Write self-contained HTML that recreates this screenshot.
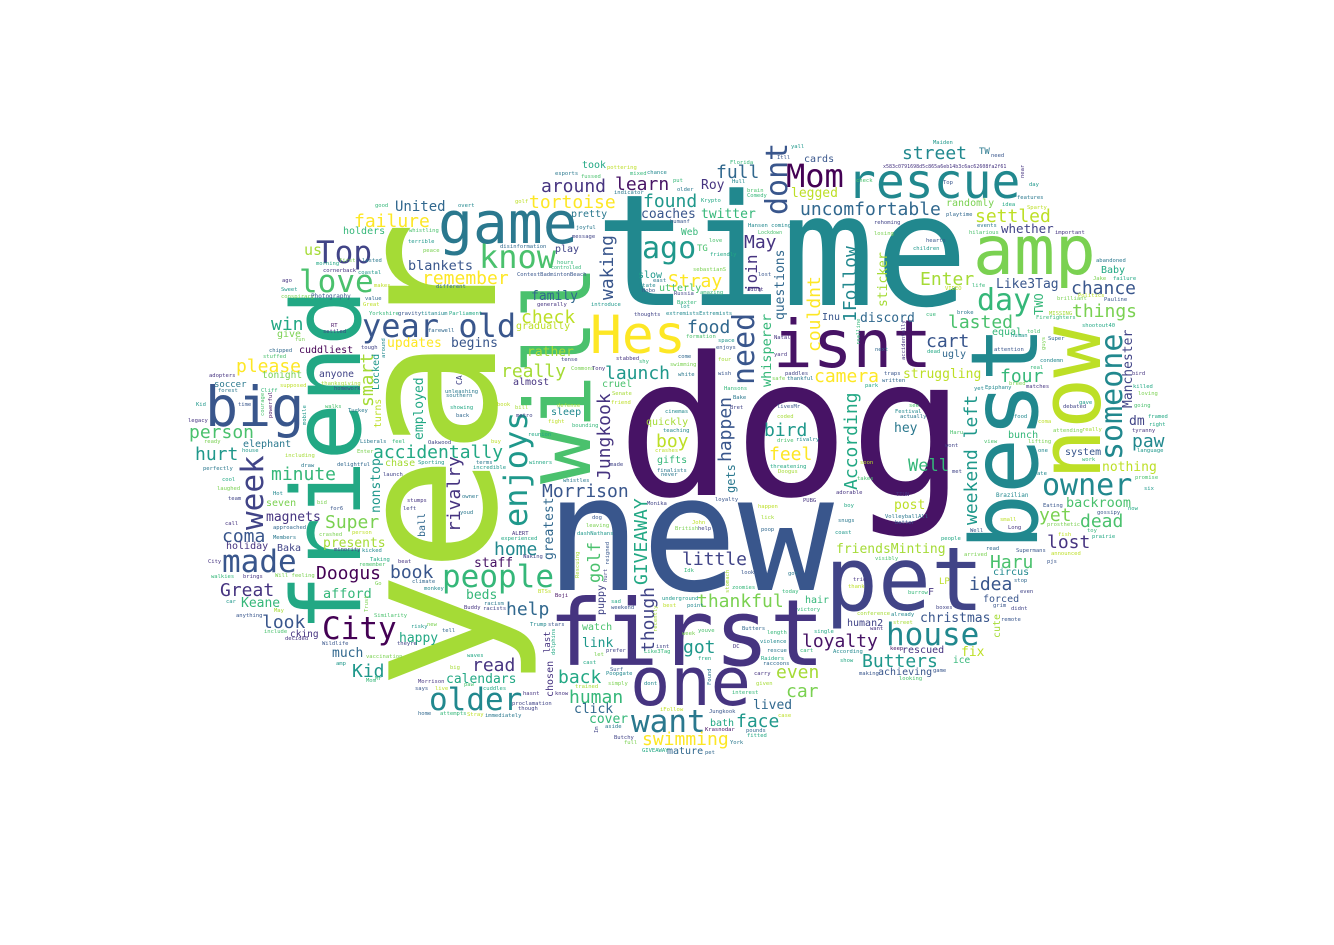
<!DOCTYPE html>
<html lang="en">
<head>
<meta charset="utf-8">
<title>Word cloud</title>
<style>
html,body{margin:0;padding:0;background:#fff;width:1334px;height:945px;overflow:hidden}
#cloud{display:block;filter:blur(.3px)}
#cloud text{font-family:"DejaVu Sans Mono","Liberation Mono",monospace}
</style>
</head>
<body>
<svg id="cloud" xmlns="http://www.w3.org/2000/svg" width="1334" height="945" viewBox="0 0 1334 945">
<rect width="1334" height="945" fill="#fff"/>
</svg>
<script>
const words = [
"dog","time","new","year","friend",
"first","one","pet","game","amp",
"Hes","will","best","now","isnt",
"big","rescue","know","Top","love",
"year old","week","made","City","people",
"older","want","house","owner","someone",
"day","ago","Mom","dont","need",
"enjoys","failure","remember","win","please",
"person","hurt","accidentally","minute","Super",
"coma","Doogus","book","Great","look",
"Kid","read","home","help","around",
"learn","full","tortoise","found","May",
"Stray","waking","check","couldnt","food",
"really","launch","Jungkook","happen","bird",
"boy","feel","Morrison","GIVEAWAY","golf",
"though","little","thankful","face","swimming",
"human","back","even","car","got",
"loyalty","Butters","idea","Haru","Well",
"According","weekend left","paw","yet","dead",
"lost","four","camera","lasted","cart",
"1Follow","Enter","street","settled","chance",
"things","rivalry","smart","join","United",
"us","blankets","updates","begins","employed",
"nonstop","presents","magnets","afford","beds",
"Keane","happy","much","calendars","staff",
"greatest","coaches","twitter","uncomfortable","legged",
"questions","whisperer","family","rather","cover",
"click","lived","link","christmas","friendsMinting",
"post","fix","Manchester","nothing","system",
"backroom","struggling","hey","discord","sticker",
"Like3Tag","whether","dm","Roy","TW",
"holders","tonight","cuddliest","anyone","soccer",
"give","Locked","turns","elephant","chase",
"seven","holiday","Baka","cking","ball",
"took","pretty","Web","play","slow",
"utterly","gradually","cruel","almost","sleep",
"quickly","gifts","gets","puppy","hair",
"mature","bath","watch","last","chosen",
"rescued","achieving","ice","human2","cute",
"forced","circus","LP","F","bunch",
"randomly","equal","ugly","Inu","Baby",
"TWO","CA","TG","cards","good",
"overt","whistling","terrible","peace","morning",
"first","lasted","cornerback","coastal","ago",
"Sweet","makes","different","conspiracy","Photography",
"value","Great","Yorkshire","gravity","titanium",
"Parliament","RT","settled","farewell","fun",
"tough","around","chipped","stuffed","adopters",
"Cliff","supposed","forest","thanksgiving","homework",
"unleashing","southern","showing","back","Kid",
"time","courage","powerful","legacy","mobile",
"walks","Turkey","book","ready","house",
"including","draw","delightful","Liberals","feel",
"Oakwood","buy","Enter","Sporting","terms",
"incredible","perfectly","launch","cool","laughed",
"team","Hot","owner","stumps","left",
"for6","bid","call","approached","youd",
"Members","crashed","person","minority","kicked",
"Taking","beat","remember","City","walkies",
"brings","Will feeling","climate","monkey","Go",
"car","Buddy","racism","racists","anything",
"May","Similarity","include","decided","risky",
"new","tell","Wildlife","theyre","vaccination",
"waves","amp","big","Morrison","Mom",
"Mr","live","says","paw","cuddles",
"home","attempts","Stray","immediately","Trust",
"Maiden","need","x583c0791698d5c865a6eb14b3c6ac62608fa2f61","check","near",
"Top","day","features","idea","Sparty",
"playtime","rehoming","events","hilarious","losing",
"important","hearts","children","abandoned","failure",
"Jake","life","VIDEO","Politics","brilliant",
"Pauline","MISSING","cue","broke","Firefighters",
"shootout40","told","Super","human","guys",
"attention","next","dead","accidentally","realline",
"condemn","real","bird","traps","written",
"breed","matches","killed","park","Epiphany",
"yet","loving","going","gave","debated",
"food","Festival","actually","framed","right",
"attending","really","tyranny","Haru","coma",
"see","view","lifting","language","one",
"wont","work","met","ate","takes",
"soon","promise","six","adorable","TTUN",
"Brazilian","Eating","boy","gossipy","now",
"VolleyballAll","better","snugs","small","Long",
"prosthetic","fish","toy","Well","coast",
"people","read","Supermans","prairie","announced",
"arrived","visibly","pjs","trio","thank",
"stop","even","burrow","boxes","grim",
"didnt","remote","conference","already","street",
"want","According","keep","show","game",
"making","looking","reunion","winners","whistles",
"made","finalists","never","teaching","crashes",
"threatening","Doogus","drive","rivalry","Monika",
"loyalty","PUBG","happen","lick","dog",
"leaving","poop","British","help","John",
"dashNathans","ALERT","experienced","Waking","Idk",
"look","got","zoomies","today","Boji",
"BTSs","sad","underground","point","best",
"weekend","victory","Trump","stars","youve",
"Butters","week","length","violence","single",
"isnt","DC","prefer","rescue","cart",
"let","Like3Tag","fren","Raiders","raccoons",
"cast","Surf","Poopgate","carry","trained",
"simply","dont","given","interest","know",
"hasnt","proclamation","though","iFollow","Jungkook",
"case","aside","Krasnodar","pounds","Butchy",
"fitted","full","York","GIVEAWAY","pet",
"dolphins","Rescuing","hurt","reigned","stomach",
"Found","recently","Im","pottering","esports",
"fussed","mixed","chance","put","Florida",
"Hull","yall","Itll","older","indicator",
"brain","Comedy","Krypto","golf","Hansen coming",
"joyful","Lockdown","message","disinformation","love",
"friendly","hours","controlled","sebastianS","lost",
"state","east","Hobo","Russia","amazing",
"adult","ContestBadmintonBeach","generally","introduce","Baxter",
"lot","thoughts","extremistsExtremists","formation","space",
"enjoys","Natal","yard","stabbed","tense",
"come","shy","Commons","Tony","swimming",
"four","white","wish","paddles","safe",
"thankful","Hansons","Bake","Senate","friend",
"defense","bill","livesMr","Bret","metro",
"cinemas","coded","fight","bounding","humanf"
];
const frequencies = [
193,155,160,195,95,
92,67,88,58,68,
53,91,93,85,66,
55,48,32,31,31,
32,31,31,31,31,
31,31,31,30,30,
30,30,32,30,30,
32,18,18,18,18,
18,18,18,18,18,
18,18,18,18,18,
18,18,18,18,18,
18,18,18,18,18,
18,18,18,18,18,
18,18,18,18,18,
18,18,18,18,17,
18,18,18,18,18,
18,18,18,18,18,
18,18,18,18,17,
18,18,18,18,18,
18,18,18,18,18,
18,18,18,18,18,
18,18,18,16,14,
15,13.5,13,13,13,
13,13,13,13.5,13,
13,13,13,13,13,
13,13,13,18,13,
13,13.5,13,13,13,
13,13,13,13,13,
13,13,13,13,10,
13.5,13,13,13,13,
13,12.5,13,13,9,
10,9.5,10,9.7,9,
10,10,9.7,10,10,
10,10,10,9.5,10,
10,10,9.5,10,10,
10,10,10,10,10,
10,10,12,10,10,
10,10,10,9,10,
10,10,9.5,10,10,
10,10,9,10,10,
10,10,10,10,10,
12,8,9,10,5.5,
5.5,5.5,5.5,5.5,5.5,
5.5,5.5,5.5,5.5,5.5,
5.5,5.5,5.5,5.5,6,
5.5,5.5,5.5,5.5,5.5,
5.5,5.5,5.5,5.5,5.5,
5.5,5.5,5.5,5.5,5.5,
5.5,5.5,5.5,5.5,5.5,
5.5,5.5,5.5,5.5,5.5,
5.5,5.5,5.5,5.5,5.5,
5.5,5.5,5.5,5.5,5.5,
5.5,5.5,5.5,5.5,5.5,
5.5,5.5,5.5,5.5,5.5,
5.5,5.5,5.5,5.5,5.5,
5.5,5.5,5.5,5.5,5.5,
5.5,5.5,5.5,5.5,5.5,
5.5,5.5,5.5,5.5,5.5,
5.5,5.5,5.5,5.5,5.5,
5.5,5.5,5.5,5.5,5.5,
5.5,5.5,5.5,5.5,5.5,
5.5,5.5,5.5,5.5,5.5,
5.5,5.5,5.5,5.5,5.5,
5.5,5.5,5.5,5.5,5.5,
5.5,5.5,5.5,5.5,5.5,
5.5,5.5,5.5,5.5,5.5,
5.5,5.5,5,5.5,5.5,
5.5,5.5,5.5,5.5,5.5,
5.5,5.5,5.5,5.5,5.5,
5.5,5.5,5.5,5.5,5.5,
5.5,5.5,5.5,5.5,5.5,
5.5,5.5,5.5,5.5,5.5,
5.5,5.5,5.5,5.5,5.5,
5.5,5.5,5.5,5.5,5.5,
5.5,5.5,5.5,5.5,5.5,
5.5,5.5,5.5,5.5,5.5,
5.5,5.5,5.5,5.5,5.5,
5.5,5.5,5.5,5.5,5.5,
5.5,5.5,5.5,5.5,5.5,
5.5,5.5,5.5,5.5,5.5,
5.5,5.5,5.5,5.5,5.5,
5.5,5.5,5.5,5.5,5.5,
6,5.5,5.5,5.5,5.5,
5.5,5.5,5.5,5.5,5.5,
5.5,5.5,5.5,5.5,5.5,
5.5,5.5,5.5,5.5,5.5,
5.5,5.5,5.5,5.5,5.5,
5.5,5.5,5.5,5.5,5.5,
5.5,5.5,5.5,5.5,5.5,
5.5,5.5,5.5,5.5,5.5,
5.5,5.5,5.5,5.5,5.5,
5.5,5.5,5.5,5.5,5.5,
5.5,5.5,5.5,5.5,5.5,
5.5,5.5,5.5,5.5,5.5,
5.5,5.5,5.5,5.5,5.5,
5.5,5.5,5.5,5.5,5.5,
5.5,5.5,5.5,5.5,5.5,
5.5,5.5,5.5,5.5,5.5,
5.5,5.5,5.5,5.5,5.5,
5.5,5.5,5.5,5.5,5.5,
5.5,5.5,5.5,5.5,5.5,
5.5,5.5,5.5,5.5,5.5,
5.5,5.5,5.5,5.5,5.5,
5.5,5.5,5.5,5.5,5.5,
5.5,5.5,5.5,5.5,5.5,
5.5,5.5,5.5,5.5,5.5,
5.5,5.5,5.5,5.5,5.5,
5.5,5.5,5.5,5.5,5.5,
5.5,5.5,5.5,5.5,5.5,
5.5,5.5,5.5,5.5,5.5,
5.5,5.5,5.5,5.5,5.5,
5.5,5.5,5.5,5.5,5.5,
5.5,5,5.5,5.5,5.5,
5.5,5.5,5,5.5,5.5,
5.5,5.5,5.5,5.5,5.5,
5.5,5.5,5.5,5.5,5.5,
5.5,5.5,5.5,5.5,5.5,
5.5,5.5,5.5,5.5,5.5,
5.5,5.5,5.5,5.5,5.5,
5.5,5.5,5.5,5.5,5.5,
5.5,5.5,5.5,5.5,5.5,
5.5,5.5,5.5,5.5,5.5,
5.5,5.5,5.5,5.5,5.5
];
const palette = {a:"#440154",b:"#471365",c:"#463480",d:"#414487",e:"#39568c",f:"#31688e",g:"#2a788e",h:"#21888e",i:"#1f988b",j:"#22a884",k:"#35b779",l:"#4ac16d",m:"#7ad151",n:"#a5db36",o:"#bddf26",p:"#fde725"};
/* Cloud layout result (not data): anchor x, anchor y, rotated flag, colour key per word */
const cloudLayout = [
[617,495,0,"b"],[595,305,0,"h"],[545,590,0,"e"],[495,690,1,"n"],[360,632,1,"j"],
[548,665,0,"c"],[630,705,0,"c"],[825,610,0,"d"],[438,243,0,"g"],[973,274,0,"m"],
[590,353,0,"p"],[590,484,1,"l"],[1037,550,1,"h"],[1100,480,1,"o"],[773,367,0,"b"],
[205,426,0,"e"],[847,198,0,"h"],[479,268,0,"l"],[316,263,0,"d"],[299,292,0,"l"],
[362,337,0,"e"],[263,530,1,"d"],[222,572,0,"e"],[322,639,0,"a"],[442,587,0,"k"],
[429,710,0,"h"],[631,732,0,"g"],[886,645,0,"h"],[1042,495,0,"h"],[1122,460,1,"h"],
[977,310,0,"k"],[642,258,0,"i"],[786,187,0,"a"],[787,215,1,"e"],[754,385,1,"e"],
[527,527,1,"i"],[354,227,0,"p"],[422,284,0,"p"],[271,330,0,"j"],[236,372,0,"p"],
[189,438,0,"l"],[195,460,0,"i"],[373,458,0,"j"],[271,480,0,"k"],[325,528,0,"m"],
[222,542,0,"e"],[316,579,0,"a"],[390,578,0,"e"],[220,596,0,"c"],[262,628,0,"e"],
[352,677,0,"i"],[472,671,0,"c"],[494,555,0,"h"],[506,615,0,"f"],[541,192,0,"c"],
[615,190,0,"b"],[716,178,0,"f"],[529,208,0,"p"],[643,207,0,"i"],[744,248,0,"c"],
[668,287,0,"p"],[613,300,1,"e"],[521,323,0,"o"],[820,352,1,"p"],[687,333,0,"f"],
[501,377,0,"n"],[605,379,0,"i"],[610,480,1,"c"],[731,462,1,"e"],[764,436,0,"i"],
[656,447,0,"o"],[769,460,0,"p"],[542,497,0,"e"],[647,585,1,"j"],[600,583,1,"l"],
[654,652,1,"d"],[682,565,0,"d"],[697,607,0,"m"],[736,727,0,"i"],[642,745,0,"p"],
[569,703,0,"k"],[558,683,0,"j"],[776,678,0,"n"],[786,697,0,"m"],[683,653,0,"i"],
[802,647,0,"b"],[862,667,0,"i"],[969,590,0,"e"],[990,568,0,"l"],[908,471,0,"k"],
[857,490,1,"j"],[977,525,1,"i"],[1132,447,0,"h"],[1039,521,0,"m"],[1080,527,0,"l"],
[1047,548,0,"c"],[1000,382,0,"k"],[814,382,0,"p"],[948,328,0,"l"],[926,347,0,"e"],
[856,322,1,"h"],[920,285,0,"n"],[902,159,0,"h"],[975,222,0,"o"],[1071,294,0,"e"],
[1072,317,0,"m"],[460,532,1,"c"],[373,407,1,"n"],[757,293,1,"c"],[395,211,0,"f"],
[304,255,0,"n"],[408,270,0,"e"],[387,347,0,"p"],[451,347,0,"e"],[423,440,1,"j"],
[380,513,1,"i"],[323,547,0,"n"],[266,521,0,"c"],[323,598,0,"k"],[466,599,0,"k"],
[241,607,0,"k"],[399,642,0,"j"],[332,657,0,"f"],[446,683,0,"j"],[474,567,0,"b"],
[553,560,1,"f"],[641,218,0,"e"],[701,218,0,"k"],[800,215,0,"f"],[791,197,0,"o"],
[784,320,1,"f"],[771,387,1,"k"],[531,300,0,"f"],[527,356,0,"n"],[589,723,0,"k"],
[574,713,0,"f"],[753,709,0,"f"],[582,647,0,"i"],[920,622,0,"e"],[836,553,0,"n"],
[894,509,0,"o"],[961,656,0,"o"],[1132,408,1,"d"],[1102,471,0,"o"],[1065,455,0,"e"],
[1066,507,0,"l"],[903,378,0,"o"],[894,432,0,"g"],[860,322,0,"f"],[887,307,1,"n"],
[996,288,0,"e"],[1001,233,0,"d"],[1129,425,0,"d"],[701,189,0,"c"],[979,154,0,"g"],
[343,234,0,"k"],[262,378,0,"m"],[299,353,0,"a"],[319,377,0,"d"],[214,387,0,"g"],
[277,337,0,"m"],[379,390,1,"i"],[381,428,1,"o"],[243,447,0,"g"],[385,466,0,"n"],
[266,506,0,"m"],[226,549,0,"c"],[277,551,0,"d"],[290,637,0,"c"],[425,537,1,"f"],
[582,168,0,"j"],[571,217,0,"g"],[681,235,0,"k"],[555,252,0,"d"],[638,278,0,"i"],
[659,291,0,"l"],[516,329,0,"o"],[602,387,0,"l"],[513,385,0,"c"],[551,415,0,"h"],
[646,425,0,"n"],[657,463,0,"k"],[735,493,1,"g"],[604,615,1,"d"],[805,603,0,"k"],
[667,754,0,"f"],[710,726,0,"j"],[582,630,0,"l"],[550,653,1,"c"],[553,697,1,"c"],
[902,653,0,"c"],[878,675,0,"e"],[953,663,0,"k"],[847,626,0,"d"],[1000,638,1,"n"],
[983,602,0,"e"],[993,575,0,"h"],[939,584,0,"o"],[928,595,0,"c"],[1008,438,0,"k"],
[946,206,0,"m"],[992,335,0,"k"],[942,357,0,"f"],[822,320,0,"e"],[1101,273,0,"j"],
[1043,315,1,"k"],[462,385,1,"d"],[697,251,0,"l"],[804,162,0,"e"],[375,207,0,"k"],
[458,207,0,"h"],[409,232,0,"l"],[408,243,0,"i"],[423,252,0,"m"],[316,265,0,"j"],
[339,262,0,"m"],[362,262,0,"g"],[323,272,0,"c"],[358,274,0,"i"],[282,282,0,"c"],
[281,291,0,"i"],[374,287,0,"o"],[436,288,0,"f"],[281,298,0,"m"],[311,298,0,"e"],
[365,300,0,"f"],[363,306,0,"o"],[369,315,0,"k"],[398,315,0,"e"],[421,315,0,"h"],
[449,315,0,"j"],[331,327,0,"b"],[323,333,0,"d"],[428,332,0,"f"],[295,341,0,"m"],
[361,349,0,"d"],[385,358,1,"h"],[269,352,0,"f"],[263,358,0,"l"],[209,377,0,"c"],
[261,392,0,"k"],[280,387,0,"o"],[218,392,0,"g"],[321,385,0,"n"],[334,390,0,"d"],
[445,393,0,"g"],[446,397,0,"g"],[450,409,0,"j"],[456,417,0,"f"],[196,406,0,"i"],
[238,406,0,"e"],[264,416,1,"l"],[272,418,1,"b"],[188,422,0,"c"],[306,425,1,"i"],
[325,408,0,"l"],[348,412,0,"g"],[497,406,0,"o"],[204,443,0,"m"],[242,452,0,"i"],
[285,457,0,"n"],[301,467,0,"g"],[337,466,0,"f"],[360,443,0,"g"],[392,443,0,"k"],
[428,444,0,"d"],[491,443,0,"o"],[357,453,0,"m"],[418,464,0,"i"],[476,464,0,"g"],
[473,469,0,"i"],[203,470,0,"g"],[383,476,0,"d"],[222,481,0,"j"],[217,490,0,"m"],
[228,500,0,"d"],[273,495,0,"h"],[462,498,0,"g"],[407,502,0,"c"],[403,510,0,"d"],
[330,510,0,"e"],[317,504,0,"m"],[225,525,0,"c"],[273,529,0,"f"],[460,514,0,"g"],
[273,539,0,"g"],[319,536,0,"m"],[352,534,0,"o"],[334,551,0,"d"],[362,552,0,"h"],
[370,561,0,"j"],[398,563,0,"c"],[359,566,0,"l"],[208,563,0,"c"],[211,578,0,"k"],
[243,578,0,"c"],[275,577,0,"m"],[412,583,0,"f"],[424,590,0,"h"],[375,585,0,"m"],
[226,603,0,"i"],[464,609,0,"c"],[484,605,0,"g"],[483,610,0,"d"],[236,617,0,"e"],
[274,612,0,"n"],[374,617,0,"l"],[264,633,0,"l"],[285,640,0,"c"],[411,628,0,"i"],
[427,626,0,"m"],[442,632,0,"f"],[322,645,0,"e"],[397,645,0,"d"],[366,658,0,"m"],
[467,657,0,"j"],[336,665,0,"i"],[450,669,0,"n"],[418,683,0,"c"],[366,682,0,"k"],
[375,680,0,"k"],[435,690,0,"o"],[415,690,0,"e"],[464,686,0,"l"],[483,690,0,"j"],
[418,715,0,"f"],[440,715,0,"k"],[467,716,0,"o"],[485,717,0,"g"],[368,612,1,"m"],
[933,144,0,"i"],[991,157,0,"e"],[883,168,0,"c"],[856,182,0,"l"],[1024,178,1,"c"],
[943,184,0,"e"],[1029,186,0,"i"],[1017,199,0,"g"],[1002,206,0,"j"],[1027,209,0,"o"],
[946,216,0,"f"],[874,224,0,"d"],[977,227,0,"g"],[969,234,0,"l"],[874,235,0,"m"],
[1055,234,0,"c"],[926,242,0,"e"],[913,250,0,"i"],[1096,262,0,"g"],[1113,280,0,"j"],
[1093,280,0,"m"],[972,287,0,"k"],[945,290,0,"o"],[1078,297,0,"o"],[1057,300,0,"m"],
[1104,301,0,"e"],[1049,315,0,"n"],[926,316,0,"k"],[957,314,0,"g"],[1036,319,0,"k"],
[1082,327,0,"j"],[1027,333,0,"l"],[1048,340,0,"f"],[1011,337,0,"i"],[1045,350,1,"m"],
[994,351,0,"e"],[875,351,0,"f"],[927,353,0,"j"],[905,360,1,"c"],[860,345,1,"k"],
[1040,362,0,"h"],[1030,369,0,"k"],[1132,375,0,"c"],[884,375,0,"e"],[882,382,0,"f"],
[1009,385,0,"m"],[1026,388,0,"c"],[1133,388,0,"j"],[865,387,0,"j"],[985,389,0,"h"],
[974,390,0,"h"],[1138,395,0,"m"],[1134,407,0,"l"],[1079,404,0,"i"],[1063,408,0,"d"],
[1014,418,0,"h"],[895,413,0,"h"],[900,418,0,"g"],[1148,418,0,"j"],[1149,426,0,"j"],
[1053,432,0,"m"],[1082,431,0,"n"],[1132,432,0,"c"],[950,434,0,"l"],[1038,423,0,"o"],
[909,407,0,"l"],[984,443,0,"l"],[1028,443,0,"m"],[1137,452,0,"i"],[1038,452,0,"h"],
[945,447,0,"d"],[1082,461,0,"k"],[952,473,0,"d"],[1037,475,0,"h"],[857,480,0,"l"],
[860,464,0,"o"],[1135,479,0,"l"],[1144,490,0,"i"],[836,494,0,"c"],[896,496,0,"c"],
[996,497,0,"h"],[1043,507,0,"e"],[844,507,0,"j"],[1097,514,0,"e"],[1128,510,0,"j"],
[885,518,0,"g"],[895,524,0,"e"],[838,522,0,"g"],[1000,521,0,"o"],[1008,529,0,"c"],
[1047,526,0,"m"],[1058,536,0,"o"],[1087,532,0,"k"],[970,532,0,"e"],[835,534,0,"i"],
[941,540,0,"j"],[986,550,0,"f"],[1016,552,0,"e"],[1092,538,0,"j"],[1051,555,0,"o"],
[964,556,0,"m"],[875,560,0,"l"],[1047,563,0,"e"],[853,581,0,"c"],[848,588,0,"o"],
[1014,582,0,"f"],[1020,593,0,"d"],[908,594,0,"k"],[936,609,0,"d"],[993,607,0,"e"],
[1011,610,0,"d"],[1001,621,0,"e"],[857,615,0,"n"],[891,616,0,"h"],[893,624,0,"n"],
[870,630,0,"c"],[833,653,0,"h"],[890,650,0,"b"],[840,662,0,"j"],[933,672,0,"e"],
[859,675,0,"e"],[899,680,0,"l"],[528,436,0,"j"],[529,464,0,"j"],[563,482,0,"g"],
[610,466,0,"d"],[657,472,0,"g"],[661,476,0,"g"],[663,432,0,"h"],[655,452,0,"o"],
[770,468,0,"j"],[778,473,0,"n"],[777,442,0,"l"],[796,441,0,"h"],[647,505,0,"d"],
[715,501,0,"e"],[803,502,0,"c"],[758,508,0,"o"],[761,519,0,"n"],[592,519,0,"e"],
[586,527,0,"m"],[761,531,0,"f"],[675,530,0,"m"],[698,530,0,"d"],[692,524,0,"o"],
[577,535,0,"i"],[512,535,0,"c"],[501,540,0,"j"],[523,558,0,"d"],[684,572,0,"k"],
[741,574,0,"e"],[788,575,0,"g"],[732,589,0,"k"],[782,593,0,"k"],[555,597,0,"b"],
[538,593,0,"o"],[611,603,0,"j"],[662,600,0,"i"],[687,607,0,"h"],[663,607,0,"o"],
[611,609,0,"e"],[797,611,0,"k"],[530,626,0,"h"],[548,626,0,"e"],[698,632,0,"l"],
[742,630,0,"f"],[682,635,0,"m"],[767,634,0,"k"],[760,643,0,"h"],[814,633,0,"j"],
[656,648,0,"d"],[733,648,0,"c"],[606,652,0,"d"],[767,652,0,"g"],[800,652,0,"k"],
[594,656,0,"m"],[644,653,0,"k"],[698,660,0,"j"],[761,660,0,"j"],[763,665,0,"f"],
[583,664,0,"j"],[610,671,0,"e"],[606,675,0,"h"],[754,675,0,"c"],[575,688,0,"n"],
[608,685,0,"m"],[644,685,0,"h"],[756,685,0,"n"],[732,694,0,"k"],[555,695,0,"c"],
[523,695,0,"c"],[512,705,0,"d"],[518,710,0,"d"],[660,711,0,"o"],[709,713,0,"e"],
[778,717,0,"o"],[605,728,0,"g"],[705,731,0,"b"],[746,732,0,"f"],[614,739,0,"d"],
[747,737,0,"j"],[624,744,0,"m"],[730,744,0,"g"],[642,752,0,"j"],[705,754,0,"f"],
[555,655,1,"j"],[579,578,1,"n"],[607,582,1,"d"],[609,565,1,"e"],[729,593,1,"n"],
[711,685,1,"g"],[657,632,1,"n"],[598,733,1,"d"],[607,169,0,"o"],[555,175,0,"g"],
[581,178,0,"l"],[630,175,0,"k"],[647,174,0,"h"],[673,182,0,"k"],[730,164,0,"k"],
[732,183,0,"h"],[791,148,0,"i"],[777,159,0,"e"],[677,191,0,"g"],[614,194,0,"g"],
[747,192,0,"l"],[747,197,0,"k"],[701,202,0,"j"],[515,203,0,"o"],[748,227,0,"h"],
[576,229,0,"g"],[758,234,0,"l"],[572,238,0,"d"],[500,248,0,"f"],[709,242,0,"l"],
[710,256,0,"j"],[557,264,0,"k"],[551,269,0,"k"],[693,271,0,"m"],[758,276,0,"e"],
[639,287,0,"h"],[653,282,0,"g"],[642,292,0,"e"],[674,295,0,"d"],[700,294,0,"k"],
[747,291,0,"c"],[517,276,0,"e"],[537,306,0,"c"],[591,306,0,"i"],[677,304,0,"k"],
[680,308,0,"i"],[634,316,0,"d"],[666,315,0,"h"],[686,338,0,"l"],[718,342,0,"i"],
[716,349,0,"e"],[774,339,0,"c"],[774,356,0,"c"],[616,360,0,"c"],[561,361,0,"d"],
[678,358,0,"f"],[639,363,0,"k"],[571,370,0,"m"],[592,370,0,"c"],[670,366,0,"m"],
[718,361,0,"n"],[678,376,0,"g"],[718,375,0,"e"],[785,375,0,"d"],[772,380,0,"m"],
[787,380,0,"g"],[724,390,0,"k"],[733,399,0,"g"],[612,395,0,"n"],[611,404,0,"o"],
[557,407,0,"n"],[515,409,0,"n"],[777,408,0,"e"],[730,409,0,"d"],[516,417,0,"d"],
[665,413,0,"h"],[777,418,0,"n"],[548,423,0,"o"],[572,427,0,"k"],[670,223,0,"e"]
];

const svgNS = "http://www.w3.org/2000/svg";
const cloud = document.getElementById("cloud");
const pxPerFrequency = 1;
function fontScale(frequency){ return frequency * pxPerFrequency; }
words.forEach(function(word, i){
  const spot = cloudLayout[i];
  if(!spot) return;
  const el = document.createElementNS(svgNS, "text");
  
  
  el.setAttribute("x", spot[0]);
  el.setAttribute("y", spot[1]);
  el.setAttribute("font-size", fontScale(frequencies[i]));
  el.setAttribute("fill", palette[spot[3]]);
  if(spot[2]) el.setAttribute("transform", "rotate(-90 " + spot[0] + " " + spot[1] + ")");
  el.textContent = word;
  cloud.appendChild(el);
});
</script>
</body>
</html>
